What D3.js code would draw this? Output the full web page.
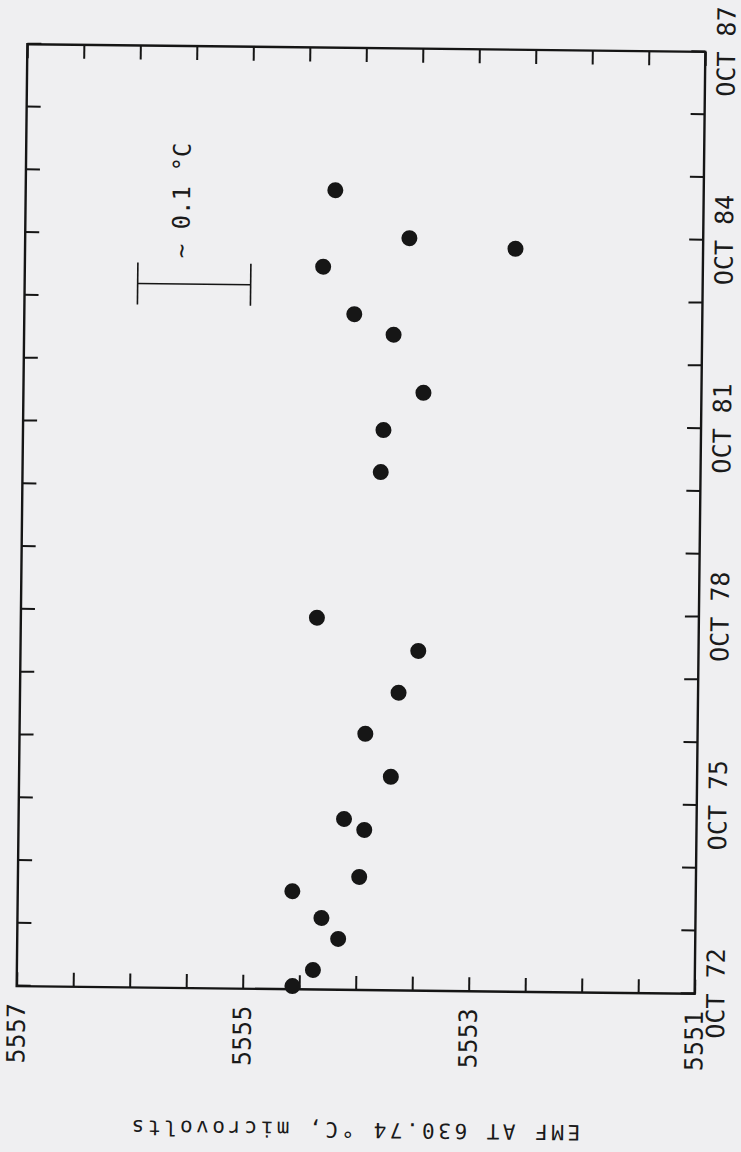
<!DOCTYPE html>
<html>
<head>
<meta charset="utf-8">
<script src="https://cdn.jsdelivr.net/npm/d3@7"></script>
<style>
  body { margin: 0; background: #efeff1; }
  svg { display: block; }
</style>
</head>
<body>
<svg id="chart" width="741" height="1152"></svg>
<script>
// measurement dates (decimal year) and EMF values, microvolts
var dates = [72.80, 73.06, 73.56, 73.89, 74.31, 74.55, 75.30, 75.47, 76.15, 76.83, 77.49,
             78.16, 78.67, 81.00, 81.67, 82.27, 83.19, 83.51, 84.26, 84.58, 84.73, 85.48];
var emf = [5554.56, 5554.38, 5554.16, 5554.31, 5554.57, 5553.98, 5553.94, 5554.12, 5553.71, 5553.94, 5553.65,
           5553.48, 5554.38, 5553.83, 5553.81, 5553.46, 5553.73, 5554.08, 5554.36, 5552.66, 5553.60, 5554.26];

var timeTickLabels = ["OCT 72", "OCT 75", "OCT 78", "OCT 81", "OCT 84", "OCT 87"];
var emfTickLabels = [5557, 5555, 5553, 5551];

// scale bar (~0.1 C) and its label
var barDate = 83.96;
var barEmf = [5556.0, 5555.0];
var barText = "~ 0.1 °C";
var barTextPos = [84.37, 5555.62];

var yTitle = "EMF AT 630.74 °C, microvolts";

var width = 942, height = 678;

var svg = d3.select("#chart");

// the whole plot is drawn sideways (rotated page), with a slight skew of the scan
var outer = svg.append("g").attr("transform", "rotate(0.65,361,519)");
var g = outer.append("g").attr("transform", "translate(22,990) rotate(-90)");

var x = d3.scaleLinear().domain([72.75, 87.75]).range([0, width]);
var y = d3.scaleLinear().domain([5551, 5557]).range([height, 0]);

var yearTicks = d3.range(0, 16).map(function(i){ return 72.75 + i; });
var emfTicks = d3.range(0, 13).map(function(i){ return 5551 + i * 0.5; });

var fontMono = "'DejaVu Sans Mono', monospace";

// bottom axis (dates)
var xAxis = d3.axisBottom(x)
    .tickValues(yearTicks)
    .tickSizeInner(-14).tickSizeOuter(0)
    .tickPadding(12)
    .tickFormat(function(d, i){ return i % 3 == 0 ? timeTickLabels[i / 3] : ""; });

g.append("g")
    .attr("class", "axis")
    .attr("transform", "translate(0," + height + ")")
    .call(xAxis);

// top axis, ticks only
g.append("g")
    .attr("class", "axis")
    .call(d3.axisTop(x).tickValues(yearTicks).tickSizeInner(-14).tickSizeOuter(0).tickFormat(""));

// left axis (EMF)
var yAxis = d3.axisLeft(y)
    .tickValues(emfTicks)
    .tickSizeInner(-14).tickSizeOuter(0)
    .tickPadding(17)
    .tickFormat(function(d){ return emfTickLabels.indexOf(d) >= 0 ? d : ""; });

g.append("g")
    .attr("class", "axis")
    .call(yAxis);

// right axis, ticks only
g.append("g")
    .attr("class", "axis")
    .attr("transform", "translate(" + width + ",0)")
    .call(d3.axisRight(y).tickValues(emfTicks).tickSizeInner(-14).tickSizeOuter(0).tickFormat(""));

g.selectAll(".axis .domain").remove();
g.selectAll(".axis line").attr("stroke", "#151515").attr("stroke-width", 2);
g.selectAll(".axis text")
    .attr("fill", "#1a1a1a")
    .style("font-family", fontMono)
    .style("font-size", "25px");

// frame
g.append("rect")
    .attr("x", 0).attr("y", 0)
    .attr("width", width).attr("height", height)
    .attr("fill", "none")
    .attr("stroke", "#151515")
    .attr("stroke-width", 2.4);

// y title
g.append("text")
    .attr("transform", "rotate(-90)")
    .attr("x", -height / 2)
    .attr("y", -140)
    .attr("dy", "0.35em")
    .style("text-anchor", "middle")
    .style("font-family", fontMono)
    .style("font-size", "21px")
    .style("letter-spacing", "3.5px")
    .attr("fill", "#1a1a1a")
    .text(yTitle);

// scale bar
g.append("line")
    .attr("x1", x(barDate)).attr("x2", x(barDate))
    .attr("y1", y(barEmf[0])).attr("y2", y(barEmf[1]))
    .attr("stroke", "#151515").attr("stroke-width", 1.6);
barEmf.forEach(function(v){
    g.append("line")
        .attr("x1", x(barDate) - 21).attr("x2", x(barDate) + 21)
        .attr("y1", y(v)).attr("y2", y(v))
        .attr("stroke", "#151515").attr("stroke-width", 1.6);
});
g.append("text")
    .attr("x", x(barTextPos[0]))
    .attr("y", y(barTextPos[1]))
    .attr("dy", "0.35em")
    .style("font-family", fontMono)
    .style("font-size", "24px")
    .attr("fill", "#1a1a1a")
    .text(barText);

// points
var points = dates.map(function(d, i){ return [d, emf[i]]; });
g.selectAll("circle")
    .data(points)
    .enter()
    .append("circle")
    .attr("cx", function(d){ return x(d[0]); })
    .attr("cy", function(d){ return y(d[1]); })
    .attr("r", 8)
    .attr("fill", "#161616");
</script>
</body>
</html>
